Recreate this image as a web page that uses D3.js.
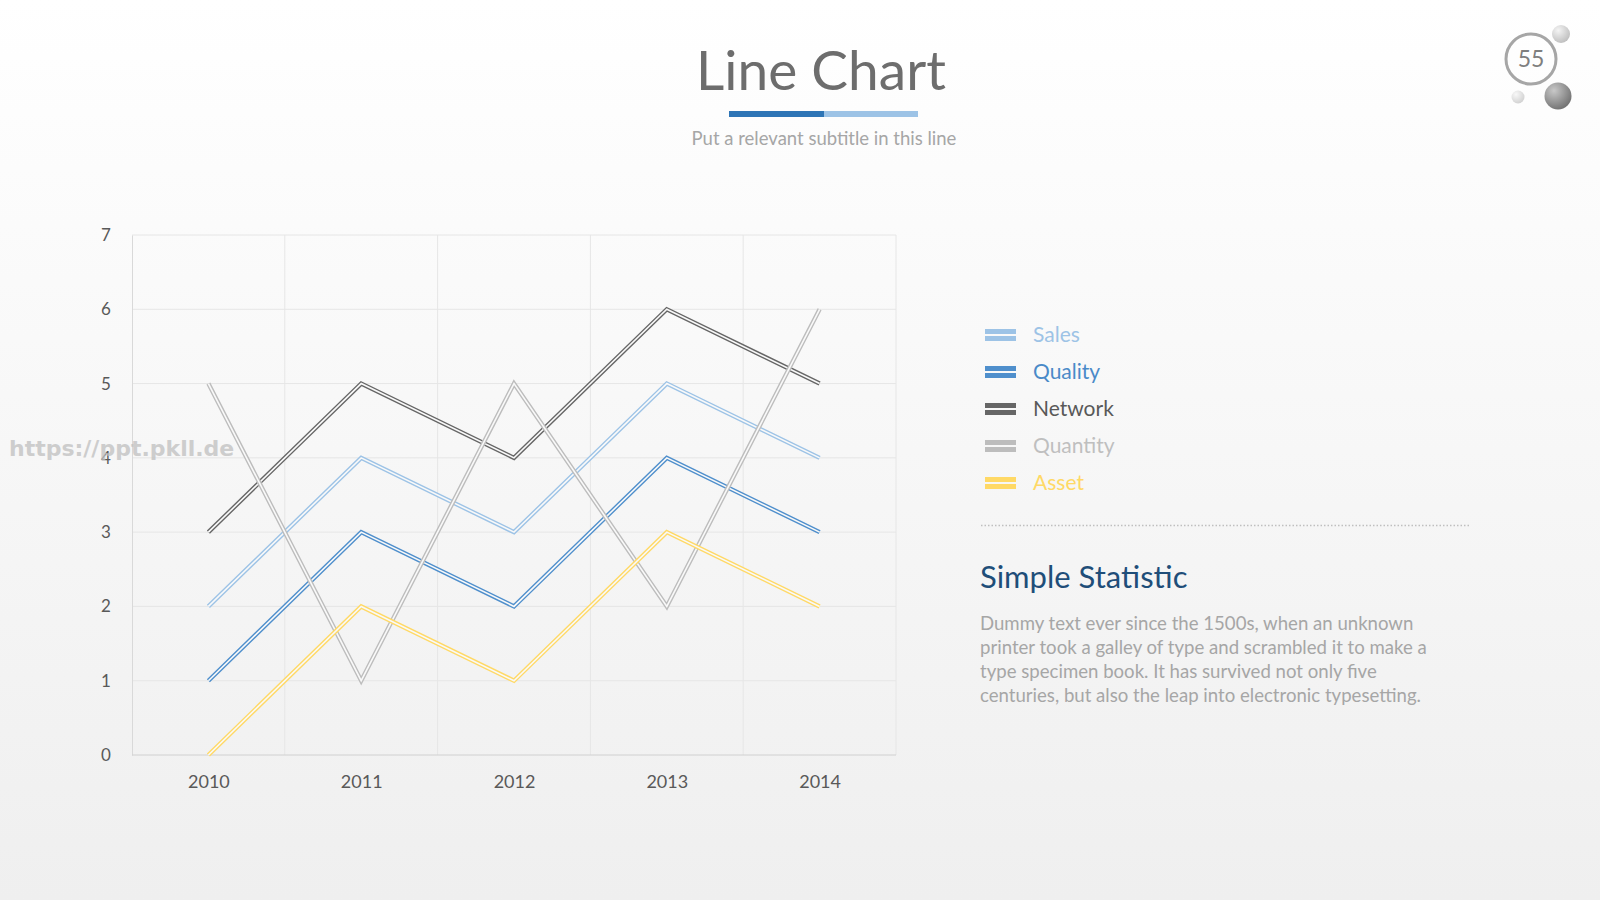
<!DOCTYPE html>
<html><head><meta charset="utf-8">
<script src="https://cdn.jsdelivr.net/npm/d3@7"></script>
<style>html,body{margin:0;padding:0;}svg{display:block;}</style>
</head><body>
<script>
const years = ["2010","2011","2012","2013","2014"];
const seriesNames = ["Sales","Quality","Network","Quantity","Asset"];
const seriesColors = ["#9dc3e6","#4f8fcc","#666666","#bdbdbd","#ffd966"];
const legendTextColors = ["#9dc3e6","#4a8ac8","#595959","#bfbfbf","#ffd966"];
const sales = [2,4,3,5,4];
const quality = [1,3,2,4,3];
const network = [3,5,4,6,5];
const quantity = [5,1,5,2,6];
const asset = [0,2,1,3,2];
const yTicks = [0,1,2,3,4,5,6,7];
const seriesValues = [sales, quality, network, quantity, asset];
const bodyLines = [
 "Dummy text ever since the 1500s, when an unknown",
 "printer took a galley of type and scrambled it to make a",
 "type specimen book. It has survived not only five",
 "centuries, but also the leap into electronic typesetting."
];
(function(){
const FONT = "Lato, 'Open Sans', sans-serif";

const W = 1600, H = 900;
const svg = d3.select("body").append("svg").attr("width", W).attr("height", H);
const defs = svg.append("defs");
const bg = defs.append("linearGradient").attr("id","bg").attr("x1",0).attr("y1",0).attr("x2",0).attr("y2",1);
bg.append("stop").attr("offset","0%").attr("stop-color","#ffffff");
bg.append("stop").attr("offset","100%").attr("stop-color","#efefef");
svg.append("rect").attr("width",W).attr("height",H).attr("fill","url(#bg)");

function sphere(id, c1, c2){
  const g = defs.append("radialGradient").attr("id",id).attr("cx","35%").attr("cy","30%").attr("r","75%");
  g.append("stop").attr("offset","0%").attr("stop-color",c1);
  g.append("stop").attr("offset","100%").attr("stop-color",c2);
}
sphere("sph1","#f4f4f4","#bdbdbd");
sphere("sph2","#c8c8c8","#707070");
sphere("sph3","#f8f8f8","#d0d0d0");

svg.append("text").attr("x",821).attr("y",90).attr("text-anchor","middle")
  .attr("font-family",FONT).attr("font-size",55).attr("fill","#6d6d6d").text("Line Chart");
svg.append("rect").attr("x",729).attr("y",111).attr("width",95).attr("height",6).attr("fill","#2e75b6");
svg.append("rect").attr("x",824).attr("y",111).attr("width",94).attr("height",6).attr("fill","#9dc3e6");
svg.append("text").attr("x",824).attr("y",145).attr("text-anchor","middle")
  .attr("font-family",FONT).attr("font-size",18.5).attr("fill","#a6a6a6").text("Put a relevant subtitle in this line");

svg.append("circle").attr("cx",1561).attr("cy",34).attr("r",9).attr("fill","url(#sph1)");
svg.append("circle").attr("cx",1558).attr("cy",96).attr("r",13.5).attr("fill","url(#sph2)");
svg.append("circle").attr("cx",1518).attr("cy",97).attr("r",6.5).attr("fill","url(#sph3)");
svg.append("circle").attr("cx",1531).attr("cy",59).attr("r",25).attr("fill","none").attr("stroke","#a6a6a6").attr("stroke-width",3);
svg.append("text").attr("x",1531).attr("y",67).attr("text-anchor","middle")
  .attr("font-family",FONT).attr("font-size",23).attr("fill","#7f7f7f").text("55");

const pl = 132, pr = 896, pt = 235, pb = 755;
const xBand = d3.scaleBand().domain(years).range([pl,pr]);
const x = d3.scalePoint().domain(years).range([pl,pr]).padding(0.5);
const y = d3.scaleLinear().domain([0,7]).range([pb,pt]);

const grid = svg.append("g");
grid.selectAll("line.h").data(yTicks.slice(1)).join("line")
  .attr("x1",pl).attr("x2",pr).attr("y1",d=>y(d)).attr("y2",d=>y(d))
  .attr("stroke","#e6e6e6").attr("stroke-width",1);
const vlines = years.slice(1).map(d=>xBand(d)).concat([pr]);
grid.selectAll("line.v").data(vlines).join("line")
  .attr("x1",d=>d).attr("x2",d=>d).attr("y1",pt).attr("y2",pb)
  .attr("stroke","#e6e6e6").attr("stroke-width",1);

const yAxis = svg.append("g").attr("transform",`translate(${pl},0)`)
  .call(d3.axisLeft(y).tickValues(yTicks).tickFormat(d3.format("d")).tickSize(0).tickPadding(22));
yAxis.select(".domain").attr("stroke","#d9d9d9");
yAxis.selectAll("text").attr("font-family",FONT).attr("font-size",17).attr("fill","#595959").attr("text-anchor","middle").attr("dx",-4);

const xAxis = svg.append("g").attr("transform",`translate(0,${pb})`)
  .call(d3.axisBottom(x).tickSize(0).tickPadding(20));
xAxis.select(".domain").attr("stroke","#d0d0d0").attr("d",`M${pl},0H${pr}`);
xAxis.selectAll("text").attr("font-family",FONT).attr("font-size",18).attr("fill","#595959");

const line = d3.line().x((d,i)=>x(years[i])).y(d=>y(d));
const lines = svg.append("g").attr("fill","none").attr("stroke-linejoin","miter");
seriesValues.forEach((vals,i)=>{
  lines.append("path").attr("d",line(vals)).attr("stroke",seriesColors[i]).attr("stroke-width",4.4);
  lines.append("path").attr("d",line(vals)).attr("stroke","#f9f9f9").attr("stroke-width",1.6);
});

svg.append("text").attr("x",9).attr("y",456).attr("font-family","'DejaVu Sans', sans-serif").attr("font-weight","bold")
  .attr("font-size",22).attr("fill","#bfbfbf").attr("opacity",0.75).text("https://ppt.pkll.de");

const leg = svg.append("g");
seriesNames.forEach((n,i)=>{
  const cy = 335 + i*37;
  leg.append("rect").attr("x",985).attr("y",cy-6).attr("width",31).attr("height",5).attr("fill",seriesColors[i]);
  leg.append("rect").attr("x",985).attr("y",cy+1).attr("width",31).attr("height",5).attr("fill",seriesColors[i]);
  leg.append("text").attr("x",1033).attr("y",cy+7).attr("font-family",FONT).attr("font-size",21)
    .attr("fill",legendTextColors[i]).text(n);
});

svg.append("line").attr("x1",981).attr("x2",1471).attr("y1",525.5).attr("y2",525.5)
  .attr("stroke","#bfbfbf").attr("stroke-width",1.5).attr("stroke-dasharray","1.5,2");

svg.append("text").attr("x",980).attr("y",588).attr("font-family",FONT).attr("font-size",31)
  .attr("fill","#1f4e79").text("Simple Statistic");
bodyLines.forEach((t,i)=>{
  svg.append("text").attr("x",980).attr("y",630+i*24).attr("font-family",FONT).attr("font-size",18.6)
    .attr("fill","#a6a6a6").text(t);
});
})();
</script>
</body></html>
